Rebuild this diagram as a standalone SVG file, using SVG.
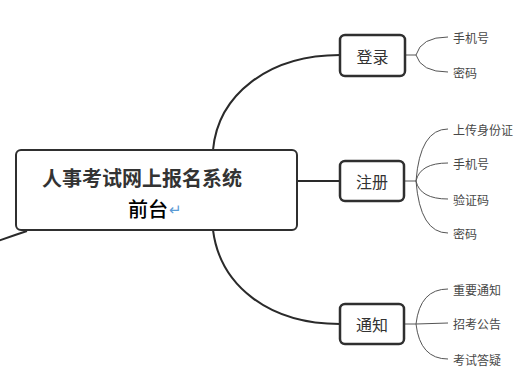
<svg xmlns="http://www.w3.org/2000/svg" width="520" height="390" viewBox="0 0 520 390">
<style>
.box{fill:#fff;stroke:#2f2f2f;stroke-width:2.5}
.main{fill:#fff;stroke:#2f2f2f;stroke-width:2}
.con{fill:none;stroke:#2a2a2a;stroke-width:2}
.br{fill:none;stroke:#555;stroke-width:1}
.t{font-family:"Noto Sans CJK SC","Noto Sans",sans-serif;dominant-baseline:central}
.title{font-size:20px;font-weight:bold;fill:#333}
.sub{font-size:20px;font-weight:500;fill:#000}
.node{font-size:16px;fill:#333;text-anchor:middle}
.leaf{font-size:12px;fill:#484848}
</style>
<rect width="520" height="390" fill="#fff"/>
<g id="connectors">
<path class="con" d="M-5,242 Q12,236 27,231"/>
<path class="con" d="M213,150 C218,95 268,55 340,55"/>
<path class="con" d="M297,181 L340,181"/>
<path class="con" d="M213,230 C220,285 268,324 340,324"/>
<path class="br" d="M405,55 L416,55"/>
<path class="br" d="M416,55 Q421,37 448,37"/>
<path class="br" d="M416,55 Q421,72 448,72"/>
<path class="br" d="M404,181 L416,181"/>
<path class="br" d="M416,181 Q420,129 448,129"/>
<path class="br" d="M416,181 Q420,163 448,163"/>
<path class="br" d="M416,181 Q420,199 448,199"/>
<path class="br" d="M416,181 Q420,233 448,233"/>
<path class="br" d="M404,324 L416,324"/>
<path class="br" d="M416,324 Q420,289 448,289"/>
<path class="br" d="M416,324 L448,323"/>
<path class="br" d="M416,324 Q420,359 448,359"/>
</g>
<g id="main">
<rect class="main" x="16" y="150" width="281" height="80" rx="5"/>
<text class="t title" x="42" y="177">人事考试网上报名系统</text>
<text class="t sub" x="128" y="208">前台</text>
<text class="t" x="169" y="208" font-size="15" fill="#5b9bd5">↵</text>
</g>
<g id="login">
<rect class="box" x="340" y="35" width="65" height="41" rx="5"/>
<text class="t node" x="372.5" y="55.5">登录</text>
</g>
<g id="register">
<rect class="box" x="340" y="161" width="64" height="40" rx="5"/>
<text class="t node" x="372" y="181">注册</text>
</g>
<g id="notice">
<rect class="box" x="340" y="304" width="64" height="40" rx="5"/>
<text class="t node" x="372" y="324">通知</text>
</g>
<g id="login-phone"><text class="t leaf" x="453" y="37">手机号</text></g>
<g id="login-pwd"><text class="t leaf" x="453" y="72">密码</text></g>
<g id="reg-id"><text class="t leaf" x="453" y="129">上传身份证</text></g>
<g id="reg-phone"><text class="t leaf" x="453" y="163">手机号</text></g>
<g id="reg-code"><text class="t leaf" x="453" y="199">验证码</text></g>
<g id="reg-pwd"><text class="t leaf" x="453" y="233">密码</text></g>
<g id="n-important"><text class="t leaf" x="453" y="289">重要通知</text></g>
<g id="n-announce"><text class="t leaf" x="453" y="323">招考公告</text></g>
<g id="n-qa"><text class="t leaf" x="453" y="359">考试答疑</text></g>
</svg>
